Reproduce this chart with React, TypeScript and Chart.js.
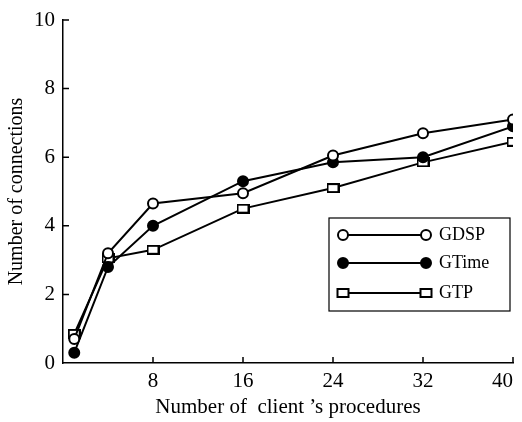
import React, { useEffect, useRef } from 'react';
import { Chart, registerables } from 'chart.js';

Chart.register(...registerables);

const procedures = [1, 4, 8, 16, 24, 32, 40];
const gdspValues = [0.7, 3.2, 4.65, 4.95, 6.05, 6.7, 7.1];
const gtimeValues = [0.3, 2.8, 4.0, 5.3, 5.85, 6.0, 6.9];
const gtpValues = [0.85, 3.05, 3.3, 4.5, 5.1, 5.85, 6.45];
const seriesNames = ['GDSP', 'GTime', 'GTP'];
const xTickValues = [8, 16, 24, 32, 40];
const yTickValues = [0, 2, 4, 6, 8, 10];
const xTitle = 'Number of  client \u2019s procedures';
const yTitle = 'Number of connections';

const FONT = '"Liberation Serif", "Times New Roman", serif';

function makeSquare(): HTMLCanvasElement {
  const c = document.createElement('canvas');
  c.width = 13;
  c.height = 10;
  const g = c.getContext('2d')!;
  g.fillStyle = '#fff';
  g.fillRect(1, 1, 11, 8);
  g.strokeStyle = '#000';
  g.lineWidth = 2;
  g.strokeRect(1, 1, 11, 8);
  return c;
}

export default function App() {
  const ref = useRef<HTMLCanvasElement>(null);

  useEffect(() => {
    if (!ref.current) return;
    const square = makeSquare();
    const mk = (vals: number[]) => procedures.map((x, i) => ({ x, y: vals[i] }));
    const styles = [
      { pointStyle: 'circle' as any, pointRadius: 5, pointBackgroundColor: '#fff' },
      { pointStyle: 'circle' as any, pointRadius: 5, pointBackgroundColor: '#000' },
      { pointStyle: square as any, pointRadius: 6, pointBackgroundColor: '#fff' },
    ];
    const values = [gdspValues, gtimeValues, gtpValues];
    const datasets = seriesNames.map((name, i) => ({
      label: name,
      data: mk(values[i]),
      borderColor: '#000',
      borderWidth: 2,
      pointBorderColor: '#000',
      pointBorderWidth: 2,
      tension: 0,
      ...styles[i],
    }));

    const tickPlugin = {
      id: 'inwardTicks',
      afterDraw(chart: any) {
        const { ctx, chartArea, scales } = chart;
        ctx.save();
        ctx.strokeStyle = '#000';
        ctx.lineWidth = 1.5;
        ctx.beginPath();
        for (const v of yTickValues) {
          if (v === 0) continue;
          const y = scales.y.getPixelForValue(v);
          ctx.moveTo(chartArea.left, y);
          ctx.lineTo(chartArea.left + 6, y);
        }
        for (const v of xTickValues) {
          const x = scales.x.getPixelForValue(v);
          ctx.moveTo(x, chartArea.bottom);
          ctx.lineTo(x, chartArea.bottom - 6);
        }
        ctx.stroke();
        ctx.restore();
      },
    };

    const legendPlugin = {
      id: 'boxLegend',
      afterDraw(chart: any) {
        const { ctx, chartArea } = chart;
        const bx = chartArea.right - 184;
        const by = chartArea.top + 198;
        const bw = 181;
        const bh = 93;
        ctx.save();
        ctx.fillStyle = '#fff';
        ctx.fillRect(bx, by, bw, bh);
        ctx.strokeStyle = '#000';
        ctx.lineWidth = 1.2;
        ctx.strokeRect(bx, by, bw, bh);
        const rows = [17, 45, 75];
        const x1 = bx + 14;
        const x2 = bx + 97;
        seriesNames.forEach((name, i) => {
          const y = by + rows[i];
          ctx.strokeStyle = '#000';
          ctx.lineWidth = 2;
          ctx.beginPath();
          ctx.moveTo(x1, y);
          ctx.lineTo(x2, y);
          ctx.stroke();
          for (const x of [x1, x2]) {
            if (i === 2) {
              ctx.fillStyle = '#fff';
              ctx.fillRect(x - 5.5, y - 4, 11, 8);
              ctx.strokeRect(x - 5.5, y - 4, 11, 8);
            } else {
              ctx.beginPath();
              ctx.arc(x, y, 5, 0, Math.PI * 2);
              ctx.fillStyle = i === 0 ? '#fff' : '#000';
              ctx.fill();
              ctx.stroke();
            }
          }
          ctx.fillStyle = '#000';
          ctx.font = `18px ${FONT}`;
          ctx.textAlign = 'left';
          ctx.textBaseline = 'middle';
          ctx.fillText(name, bx + 110, y);
        });
        ctx.restore();
      },
    };

    const chart = new Chart(ref.current, {
      type: 'line',
      data: { datasets },
      plugins: [tickPlugin, legendPlugin],
      options: {
        responsive: false,
        animation: false,
        layout: { padding: { top: 20, right: 9, left: 0, bottom: 0 } },
        plugins: {
          legend: { display: false },
          tooltip: { enabled: false },
        },
        scales: {
          x: {
            type: 'linear',
            min: 0,
            max: 40,
            afterBuildTicks: (scale: any) => {
              scale.ticks = [0, ...xTickValues].map((v) => ({ value: v }));
            },
            afterFit: (scale: any) => {
              scale.height = 59;
              scale.paddingLeft = 0;
              scale.paddingRight = 0;
            },
            ticks: {
              color: '#000',
              font: { family: FONT, size: 21 },
              padding: 6,
              maxRotation: 0,
              align: 'inner',
              callback: (v: any) => (v === 0 ? '' : String(v)),
            },
            grid: { display: false, drawTicks: false },
            border: { display: true, color: '#000', width: 1.5 },
            title: {
              display: true,
              text: xTitle,
              color: '#000',
              font: { family: FONT, size: 21 },
              padding: { top: 0, bottom: 2 },
            },
          },
          y: {
            type: 'linear',
            min: 0,
            max: 10,
            afterBuildTicks: (scale: any) => {
              scale.ticks = yTickValues.map((v) => ({ value: v }));
            },
            afterFit: (scale: any) => {
              scale.width = 63;
              scale.paddingTop = 0;
              scale.paddingBottom = 0;
            },
            ticks: {
              color: '#000',
              font: { family: FONT, size: 21 },
              padding: 8,
            },
            grid: { display: false, drawTicks: false },
            border: { display: true, color: '#000', width: 1.5 },
            title: {
              display: true,
              text: yTitle,
              color: '#000',
              font: { family: FONT, size: 20 },
              padding: { top: 5, bottom: 0 },
            },
          },
        },
      },
    });
    return () => chart.destroy();
  }, []);

  return (
    <div style={{ position: 'absolute', left: 0, top: 0, width: 522, height: 422, background: '#fff' }}>
      <canvas ref={ref} width={522} height={422} style={{ display: 'block' }} />
    </div>
  );
}
